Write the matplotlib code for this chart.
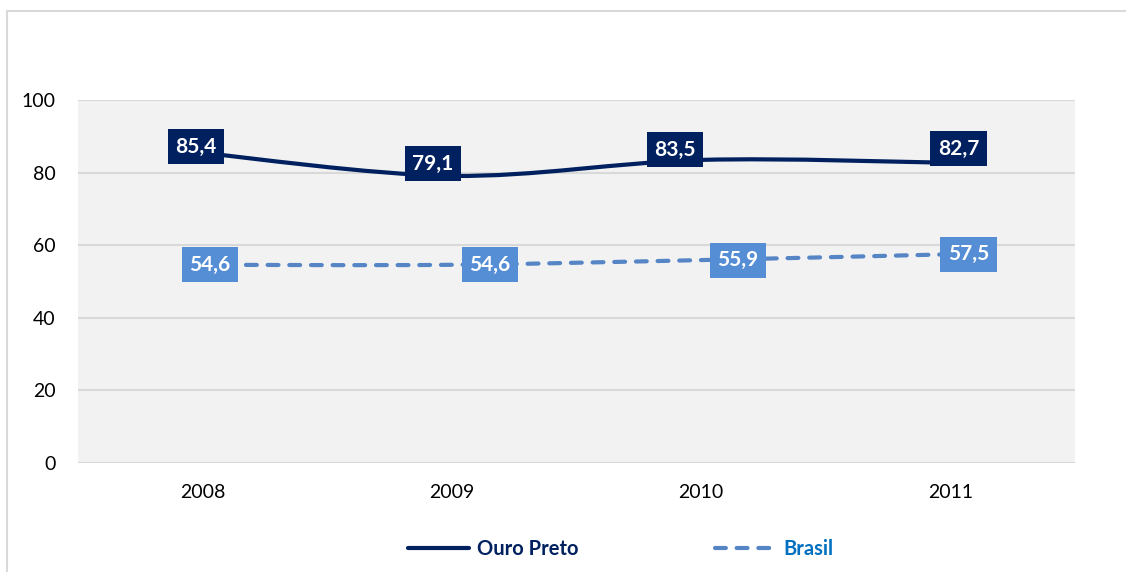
import matplotlib
matplotlib.use("Agg")
import matplotlib.pyplot as plt
import numpy as np
from matplotlib.path import Path
from matplotlib.patches import PathPatch, Rectangle
from matplotlib.lines import Line2D

plt.rcParams['font.family'] = ['Lato', 'DejaVu Sans']

# data
years = ["2008", "2009", "2010", "2011"]
ouro_preto = [85.4, 79.1, 83.5, 82.7]
brasil = [54.6, 54.6, 55.9, 57.5]
y_ticks = [0, 20, 40, 60, 80, 100]

NAVY = '#002060'
BLUE_LINE = '#5585C5'
BLUE_BOX = '#558ED5'
BLUE_TEXT = '#0070C0'


def smooth_path(xs, ys):
    """Excel-like smoothed line as cubic bezier segments."""
    pts = np.column_stack([xs, ys]).astype(float)
    n = len(pts)
    verts = [pts[0]]
    codes = [Path.MOVETO]
    for i in range(n - 1):
        p0 = pts[max(i - 1, 0)]
        p1 = pts[i]
        p2 = pts[i + 1]
        p3 = pts[min(i + 2, n - 1)]
        c1 = p1 + (p2 - p0) / 6.0
        c2 = p2 - (p3 - p1) / 6.0
        verts += [c1, c2, p2]
        codes += [Path.CURVE4] * 3
    return Path(verts, codes)


fig = plt.figure(figsize=(11.26, 5.72), dpi=100)
ax = fig.add_axes([78 / 1126, 1 - 463 / 572, (1075 - 78) / 1126, (463 - 100) / 572])

# chart area border (cropped at right / bottom)
fig.patches.append(Rectangle((7 / 1126, -0.1), 1.2, 1 - 11 / 572 + 0.1,
                             transform=fig.transFigure, fill=False,
                             edgecolor='#D9D9D9', linewidth=1.5))

ax.set_facecolor('#F2F2F2')
x = np.arange(len(years))
ax.set_xlim(-0.5, len(years) - 0.5)
ax.set_ylim(0, 100)
ax.set_yticks(y_ticks)
ax.set_xticks(x)
ax.set_xticklabels(years)
ax.grid(axis='y', color='#D9D9D9', linewidth=1.5)
ax.set_axisbelow(True)
for s in ax.spines.values():
    s.set_visible(False)
ax.tick_params(length=0, labelsize=14, colors='black')
ax.tick_params(axis='y', pad=16)
ax.tick_params(axis='x', pad=15)

# lines
dash = (0, (2.6, 2.6))
op_patch = PathPatch(smooth_path(x, ouro_preto), facecolor='none', edgecolor=NAVY,
                     linewidth=3, capstyle='round', zorder=3)
ax.add_patch(op_patch)
br_patch = PathPatch(smooth_path(x, brasil), facecolor='none', edgecolor=BLUE_LINE,
                     linewidth=3, linestyle=dash, capstyle='round', zorder=3)
ax.add_patch(br_patch)

# data labels (offsets in pixels)
op_offsets = [(-7, 6), (-19, 12), (-26, 10), (8, 14)]
br_offsets = [(7, 0), (38, 0), (37, 0), (18, 0)]
label_style = dict(textcoords='offset pixels', ha='center', va='center',
                   color='white', fontsize=15, fontweight='bold', zorder=5)
for xi, v, off in zip(x, ouro_preto, op_offsets):
    ax.annotate(f"{v:.1f}".replace('.', ','), (xi, v), xytext=off,
                bbox=dict(boxstyle='square,pad=0.36', facecolor=NAVY, edgecolor='none'),
                **label_style)
for xi, v, off in zip(x, brasil, br_offsets):
    ax.annotate(f"{v:.1f}".replace('.', ','), (xi, v), xytext=off,
                bbox=dict(boxstyle='square,pad=0.36', facecolor=BLUE_BOX, edgecolor='none'),
                **label_style)

# legend
handles = [Line2D([], [], color=NAVY, linewidth=3, solid_capstyle='round'),
           Line2D([], [], color=BLUE_LINE, linewidth=3, linestyle=dash,
                  dash_capstyle='round')]
leg = fig.legend(handles, ["Ouro Preto", "Brasil"], loc='center',
                 bbox_to_anchor=(621 / 1126, 1 - 549 / 572), ncol=2, frameon=False,
                 handlelength=3.0, handletextpad=0.4, columnspacing=6.8,
                 prop={'weight': 'bold', 'size': 14.5})
for txt, c in zip(leg.get_texts(), [NAVY, BLUE_TEXT]):
    txt.set_color(c)

fig.savefig('out.png', dpi=100)
